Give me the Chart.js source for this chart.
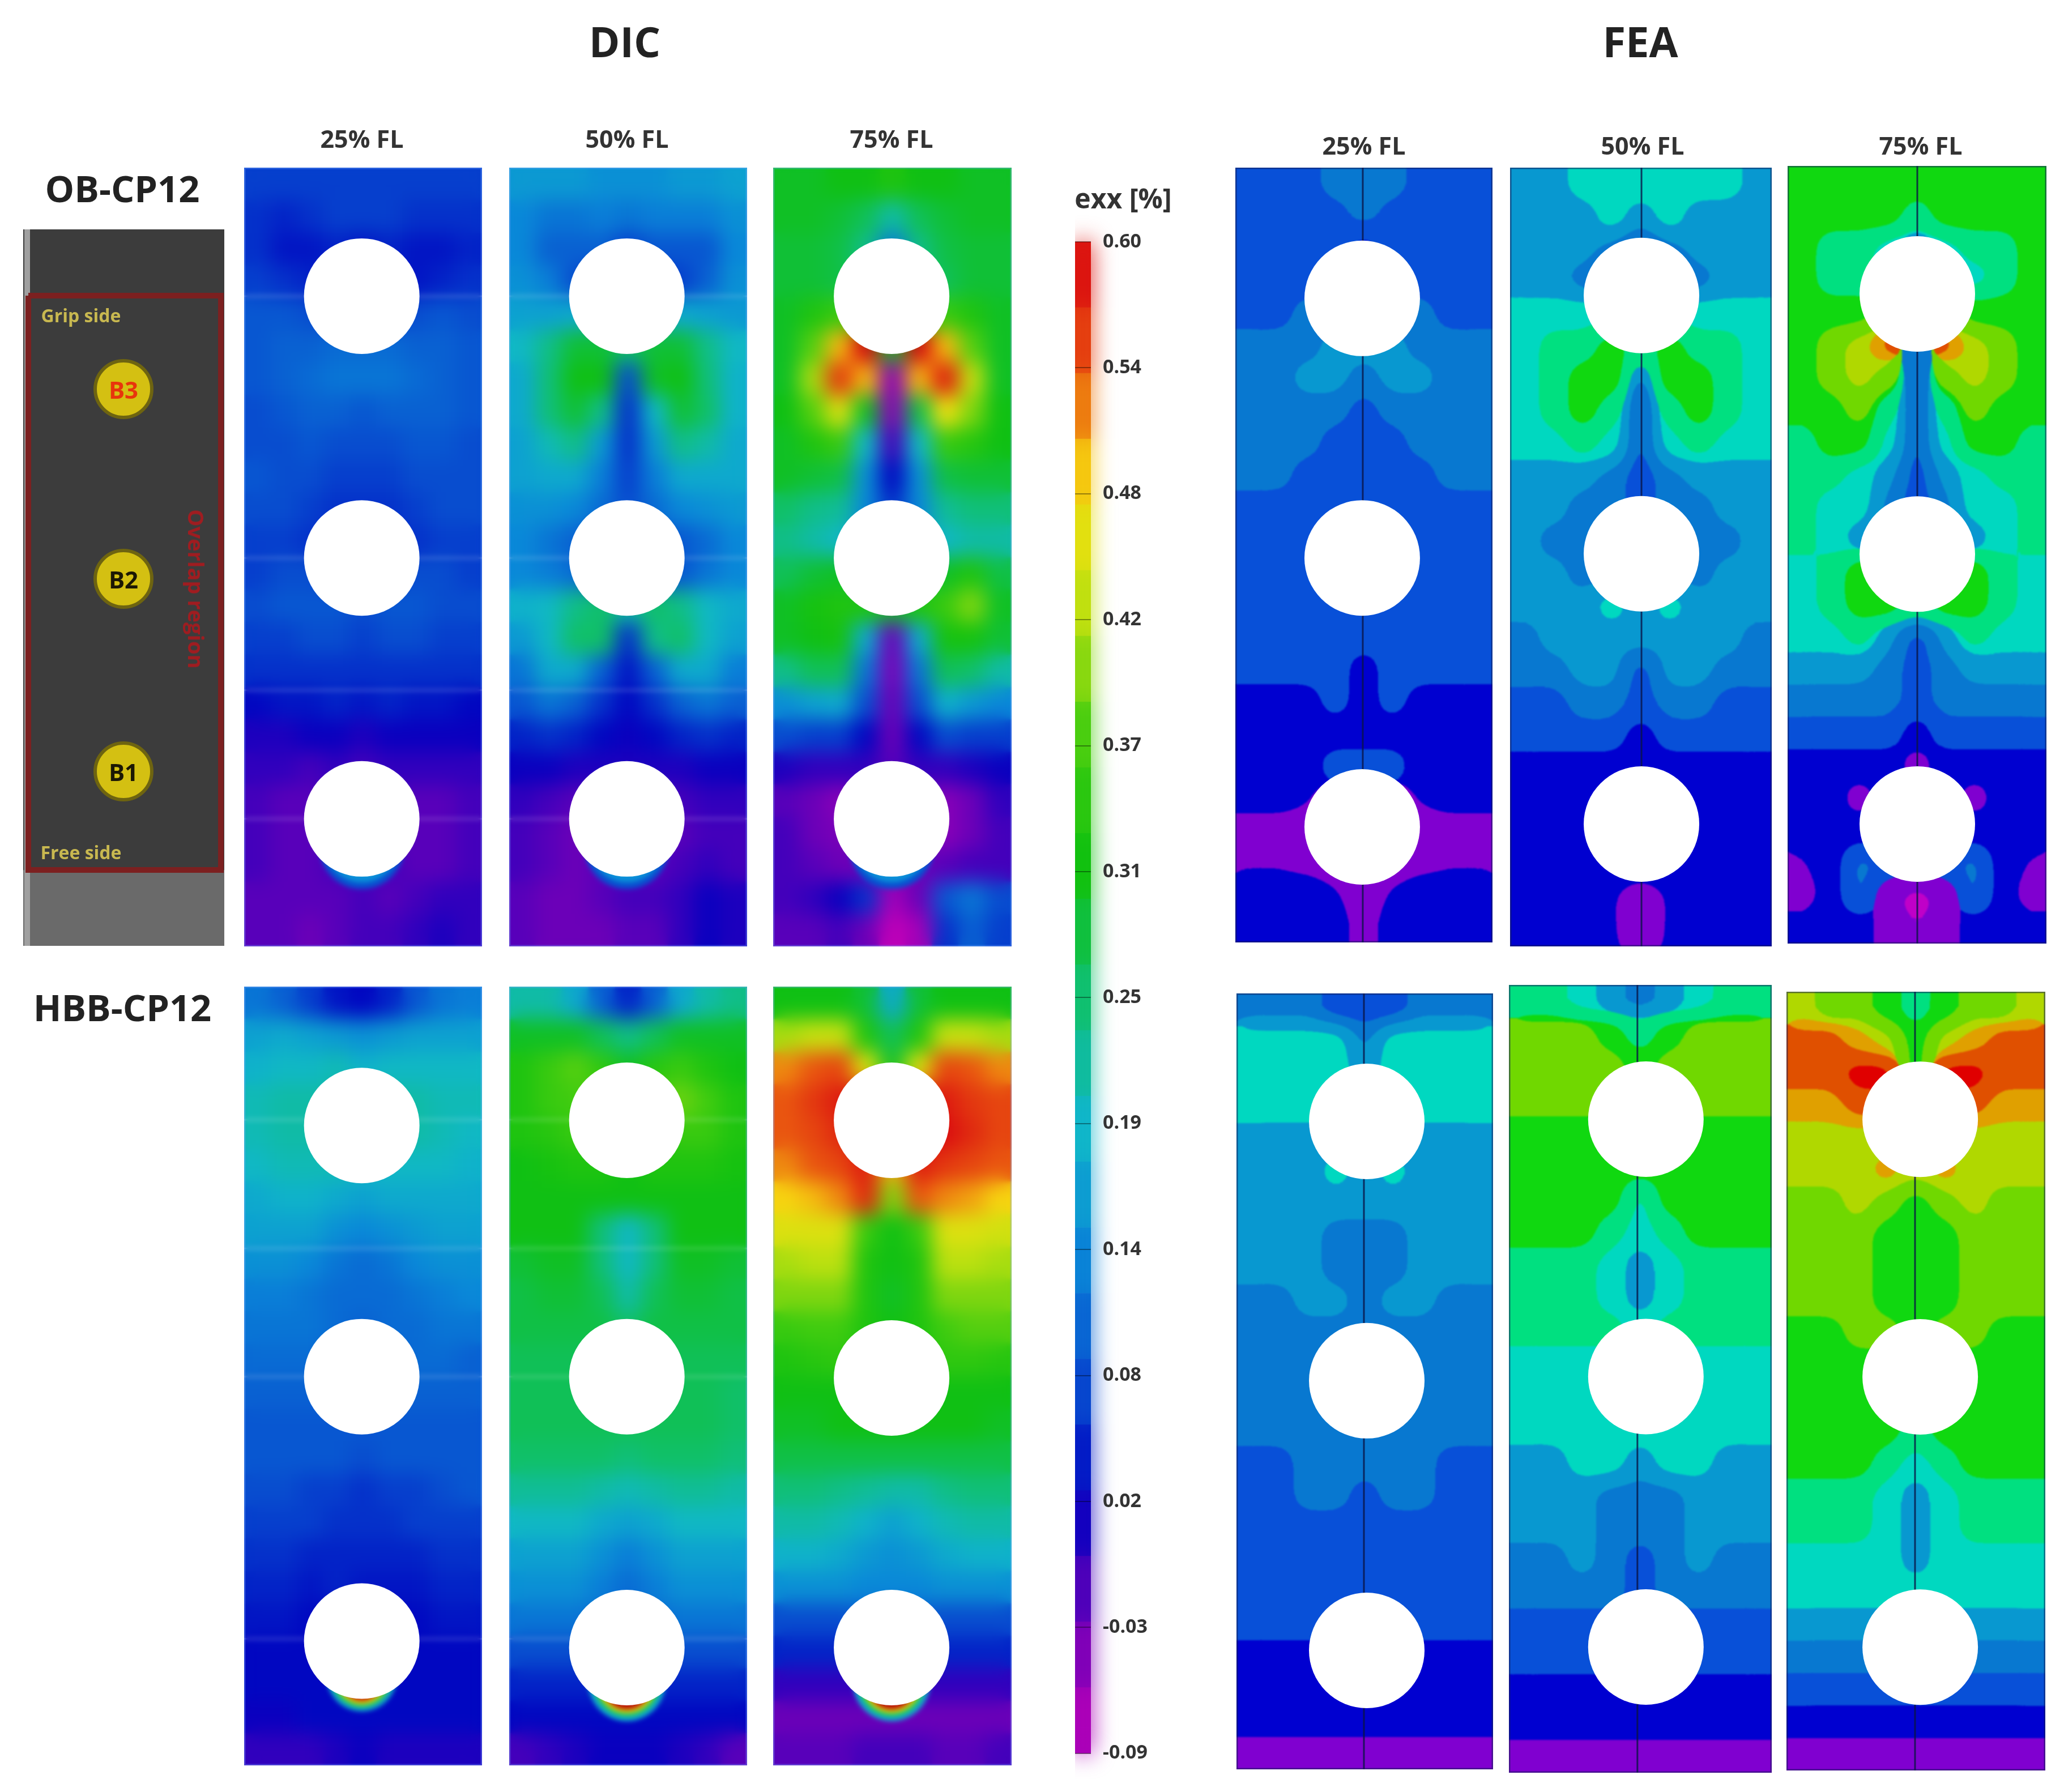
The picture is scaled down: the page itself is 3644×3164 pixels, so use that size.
<!DOCTYPE html>
<html>
<head>
<meta charset="utf-8">
<title>exx DIC / FEA</title>
<script src="https://cdn.jsdelivr.net/npm/chart.js@4"></script>
<style>
    html, body { margin: 0; background: #fff; }
    #page { position: relative; width: 3644px; height: 3164px; overflow: hidden; background: #fff; }
    .box { position: absolute; }
    .txt { position: absolute; transform: translate(-50%, -50%); white-space: nowrap; color: #222; font-family: "Open Sans", sans-serif; font-weight: 700; filter: blur(0.7px); }
</style>
</head>
<body>
<div id="page"></div>
<script>
// values are exx in units of 0.01 %, rows top to bottom
const obDic25 = [
[7,7,7,7,7,7,7,7,7],[6,5,6,7,7,7,6,6,6],[6,4,4,5,4,5,4,4,5],[7,6,5,4,4,4,4,5,6],
[9,9,8,7,7,7,8,9,8],[9,10,10,11,11,11,10,10,9],[9,10,11,12,12,12,11,10,9],[8,9,10,10,9,10,10,10,9],
[8,8,9,8,8,8,9,9,8],[9,8,8,7,7,7,8,8,8],[8,8,7,6,6,6,7,8,8],[7,7,6,6,6,6,6,7,7],
[7,8,8,7,7,7,8,8,7],[8,9,9,9,8,9,9,8,8],[7,7,8,8,7,8,8,7,7],[6,6,6,6,6,6,6,6,6],
[3,4,4,5,4,5,4,4,3],[1,1,2,2,1,2,2,2,2],[0,0,-1,0,-1,0,0,0,0],[-1,-2,-2,-1,-1,-1,-2,-2,-1],
[-1,-2,-2,-2,-2,-2,-2,-2,-1],[-1,-2,-2,-1,-1,-1,-2,-2,-1],[-2,-2,-2,-2,-1,-2,-1,0,0],[-2,-2,-3,-2,-1,-1,0,1,0]];
const obDic50 = [
[16,16,16,15,15,15,16,16,17],[14,12,12,13,12,13,13,13,15],[14,10,10,10,7,9,9,9,14],[15,13,8,6,4,6,7,10,15],
[17,17,18,18,18,18,18,17,16],[20,24,29,29,26,29,29,24,20],[18,25,31,31,8,30,31,25,19],[18,25,29,24,6,20,29,26,19],
[17,21,24,16,6,16,24,22,18],[17,18,18,13,7,13,18,18,18],[15,15,14,11,8,11,14,15,16],[14,12,10,8,6,8,9,11,14],
[14,13,11,7,6,8,9,12,14],[19,20,24,26,22,26,24,20,18],[16,20,26,26,6,24,26,20,17],[12,18,18,10,4,10,18,18,13],
[9,12,10,6,3,6,10,12,10],[5,6,5,3,2,3,5,6,5],[2,2,1,1,1,1,1,2,2],[0,-1,-2,-2,-1,-2,-1,0,0],
[-1,-2,-3,-3,-3,-3,-2,-1,-1],[-1,-2,-3,-2,-2,-2,-1,0,-1],[-2,-3,-3,-2,-1,-1,0,2,1],[-2,-3,-3,-3,-2,-2,0,2,1]];
const obDic75 = [
[30,30,31,31,33,31,31,30,30],[30,30,29,27,22,27,29,30,30],[29,29,28,24,12,24,28,29,29],[29,29,28,25,20,25,27,29,29],
[30,33,36,35,30,35,36,33,30],[30,38,50,60,30,60,50,38,30],[30,42,56,50,-5,50,58,44,30],[31,38,46,30,-5,28,48,40,31],
[30,33,36,20,-1,20,36,34,31],[30,29,28,15,3,15,28,29,29],[26,24,23,14,6,14,23,25,25],[24,22,20,14,7,14,20,22,22],
[27,29,30,27,22,27,30,33,28],[30,32,33,33,30,33,36,40,30],[30,31,32,18,-3,18,32,32,29],[24,27,27,12,-4,12,27,26,22],
[15,17,18,8,-3,8,19,16,14],[8,7,7,3,-3,3,8,7,7],[1,0,0,0,-2,0,0,1,2],[-2,-3,-5,-3,-3,-3,-5,-3,0],
[-1,-3,-4,-3,-3,-3,-5,-3,-1],[-1,-2,-3,-3,-3,-3,-2,-1,-1],[-1,0,2,6,-7,-3,9,12,8],[-2,-2,-1,-3,-9,-7,6,10,7]];
const hbbDic25 = [
[12,10,7,4,3,5,9,12,13],[17,18,17,16,15,16,17,17,17],[19,20,20,21,19,20,20,20,20],[21,22,22,22,22,22,22,21,21],
[21,22,22,21,21,21,22,21,20],[20,21,21,21,20,20,20,20,19],[18,19,19,18,17,18,18,18,18],[17,17,17,15,14,15,16,17,17],
[15,15,14,12,11,12,14,15,15],[13,13,12,11,11,11,12,13,14],[12,12,12,11,10,11,11,12,12],[11,11,11,10,10,10,11,11,10],
[10,10,10,10,10,10,10,10,10],[9,9,9,9,9,9,9,9,9],[9,9,9,9,8,9,9,9,9],[8,8,7,7,6,7,7,8,9],
[7,7,7,6,6,6,7,7,7],[6,6,5,5,5,5,5,6,6],[5,5,4,5,4,4,4,5,5],[4,4,3,3,3,3,3,4,4],
[3,3,3,3,3,3,3,3,3],[3,3,3,3,3,3,3,3,3],[2,2,3,3,3,3,3,3,3],[0,0,0,1,2,1,1,1,1]];
const hbbDic50 = [
[22,22,18,10,5,10,18,22,24],[30,30,30,27,24,27,30,30,30],[33,36,38,35,30,34,36,33,31],[33,36,37,38,34,38,39,37,33],
[33,34,36,33,33,33,36,36,33],[31,32,33,33,31,33,33,33,32],[31,31,31,31,31,31,31,31,31],[31,31,31,25,20,25,31,31,31],
[29,30,30,25,20,25,30,30,29],[28,29,29,27,22,27,29,29,28],[28,28,28,28,26,28,28,28,28],[27,27,27,27,27,27,27,27,27],
[27,27,27,27,27,27,27,27,26],[27,27,27,27,27,27,27,27,26],[26,26,26,26,25,26,26,26,25],[23,23,23,22,21,22,23,23,22],
[20,20,20,18,17,18,20,20,20],[17,17,17,15,13,15,17,17,17],[15,15,15,13,11,13,15,15,15],[12,12,12,11,10,11,12,12,12],
[8,8,8,8,8,8,8,8,8],[5,5,5,5,5,5,5,5,5],[3,3,3,3,3,3,3,3,3],[-1,0,1,2,2,2,1,0,-2]];
const hbbDic75 = [
[31,31,31,29,18,29,31,31,31],[42,44,44,33,27,33,44,44,42],[52,54,55,46,30,46,55,54,52],[54,56,58,60,30,60,58,56,55],
[54,55,57,60,55,60,59,57,55],[52,54,55,58,50,58,56,55,54],[49,50,52,57,40,54,52,51,49],[46,46,46,36,31,36,46,46,45],
[42,43,43,33,31,33,43,43,42],[40,40,40,33,30,33,40,40,40],[36,37,37,33,31,33,37,38,38],[33,34,35,33,32,33,35,35,34],
[31,31,31,31,31,31,31,31,31],[30,30,31,31,31,31,31,31,30],[28,28,28,28,28,28,28,28,28],[25,25,24,23,22,22,24,25,25],
[22,22,21,19,17,19,21,22,22],[19,19,18,16,15,16,18,19,19],[15,15,15,14,14,14,15,15,15],[8,8,8,9,9,9,8,8,8],
[5,5,5,5,5,5,5,5,5],[0,0,0,0,0,0,0,0,0],[-3,-3,-3,-3,-3,-3,-3,-3,-3],[-2,-2,-2,-1,-1,-1,-2,-2,-1]];
const obFea25 = [
[7,7,7,11,11,11,7,7,7],[7,7,7,7,11,7,7,7,7],[7,7,7,7,2,7,7,7,7],[7,7,7,7,7,7,7,7,7],
[7,7,11,11,11,11,11,7,7],[11,11,11,15,15,15,11,11,11],[11,11,15,15,11,15,15,11,11],[11,11,11,11,7,11,11,11,11],
[11,11,11,7,7,7,11,11,11],[11,11,7,7,7,7,7,11,11],[7,7,7,7,7,7,7,7,7],[7,7,7,7,7,7,7,7,7],
[7,7,7,7,7,7,7,7,7],[7,7,7,7,7,7,7,7,7],[7,7,7,7,7,7,7,7,7],[7,7,7,7,2,7,7,7,7],
[2,2,2,7,2,7,2,2,2],[2,2,2,2,2,2,2,2,2],[2,2,2,7,7,7,2,2,2],[2,2,0,-3,2,-3,0,2,2],
[-3,-3,-3,-3,-3,-3,-3,-3,-3],[-1,-1,-2,-3,-3,-3,-2,-1,-1],[2,2,2,0,-3,0,2,2,2],[2,2,2,2,-3,2,2,2,2]];
const obFea50 = [
[15,15,20,20,20,20,20,20,15],[15,15,15,20,15,20,15,15,15],[15,15,15,11,7,11,15,15,15],[15,15,11,7,2,7,11,15,15],
[20,20,20,20,20,20,20,20,20],[20,25,25,31,25,31,25,25,20],[20,25,31,31,11,31,31,25,20],[20,25,31,25,7,25,31,25,20],
[20,20,25,20,7,20,25,20,20],[15,15,15,11,7,11,15,15,15],[15,15,11,11,7,11,11,15,15],[15,11,11,11,7,11,11,11,15],
[15,15,11,11,7,11,11,15,15],[15,15,15,20,15,20,15,15,15],[11,15,15,15,15,15,15,15,11],[11,11,15,15,7,15,15,11,11],
[7,7,11,11,7,11,11,7,7],[7,7,7,7,2,7,7,7,7],[2,2,2,2,2,2,2,2,2],[2,2,2,2,2,2,2,2,2],
[2,2,2,2,2,2,2,2,2],[2,2,2,2,2,2,2,2,2],[2,2,2,0,-3,0,2,2,2],[2,2,2,0,-3,0,2,2,2]];
const obFea75 = [
[31,31,31,31,31,31,31,31,31],[31,31,31,31,25,31,31,31,31],[31,25,25,20,11,20,25,25,31],[31,25,25,20,7,20,20,25,31],
[31,31,31,37,31,37,31,31,31],[31,37,42,55,11,55,42,37,31],[31,37,42,37,7,37,42,37,31],[31,31,37,25,7,25,37,31,31],
[25,31,31,20,7,20,31,31,25],[25,25,20,15,7,15,20,25,25],[25,20,20,11,7,11,20,20,25],[25,20,15,11,7,11,15,20,25],
[20,25,31,31,25,31,31,25,20],[20,25,31,31,25,31,31,25,20],[20,20,25,15,7,15,25,20,20],[15,15,15,11,7,11,15,15,15],
[11,11,11,11,7,11,11,11,11],[7,7,7,7,2,7,7,7,7],[2,2,2,2,-3,2,2,2,2],[2,2,-3,2,2,2,-3,2,2],
[2,2,2,2,2,2,2,2,2],[-1,2,11,7,2,7,11,2,-1],[-3,2,11,-3,-5,-3,11,2,-3],[2,2,2,-3,-4,-3,2,2,2]];
const hbbFea25 = [
[11,11,11,7,7,7,11,11,11],[20,20,20,20,11,20,20,20,20],[20,20,20,20,15,20,20,20,20],[20,20,20,20,20,20,20,20,20],
[15,15,15,15,15,15,15,15,15],[15,15,15,20,15,20,15,15,15],[15,15,15,15,15,15,15,15,15],[15,15,15,11,11,11,15,15,15],
[15,15,15,11,11,11,15,15,15],[11,11,15,15,11,15,15,11,11],[11,11,11,11,11,11,11,11,11],[11,11,11,11,11,11,11,11,11],
[11,11,11,11,11,11,11,11,11],[11,11,11,11,11,11,11,11,11],[7,7,11,11,11,11,11,7,7],[7,7,11,11,7,11,11,7,7],
[7,7,7,7,7,7,7,7,7],[7,7,7,7,7,7,7,7,7],[7,7,7,7,7,7,7,7,7],[7,7,7,7,2,7,7,7,7],
[2,2,2,2,2,2,2,2,2],[2,2,2,2,2,2,2,2,2],[2,2,2,2,2,2,2,2,2],[-3,-3,-3,-3,-3,-3,-3,-3,-3]];
const hbbFea50 = [
[25,25,20,15,11,15,20,25,25],[37,37,37,31,25,31,37,37,37],[37,37,37,37,31,37,37,37,37],[37,37,37,37,37,37,37,37,37],
[31,31,31,31,31,31,31,31,31],[31,31,31,31,31,31,31,31,31],[31,31,31,31,20,31,31,31,31],[31,31,31,25,20,25,31,31,31],
[25,25,25,20,15,20,25,25,25],[25,25,25,20,15,20,25,25,25],[25,25,25,25,20,25,25,25,25],[20,20,20,20,20,20,20,20,20],
[20,20,20,20,20,20,20,20,20],[20,20,20,20,20,20,20,20,20],[15,15,20,20,15,20,20,15,15],[15,15,15,11,11,11,15,15,15],
[15,15,15,11,11,11,15,15,15],[11,11,15,11,7,11,15,11,11],[11,11,11,11,7,11,11,11,11],[7,7,7,7,7,7,7,7,7],
[7,7,7,7,7,7,7,7,7],[2,2,2,2,2,2,2,2,2],[2,2,2,2,2,2,2,2,2],[-3,-3,-3,-3,-3,-3,-3,-3,-3]];
const hbbFea75 = [
[42,37,37,31,25,31,37,37,42],[55,55,50,42,31,42,50,55,55],[55,55,72,62,31,62,72,55,55],[50,50,55,55,42,55,55,50,50],
[42,42,42,42,42,42,42,42,42],[42,42,42,50,42,50,42,42,42],[37,37,42,37,31,37,42,37,37],[37,37,37,31,31,31,37,37,37],
[37,37,37,31,31,31,37,37,37],[37,37,37,31,31,31,37,37,37],[31,31,37,37,31,37,37,31,31],[31,31,31,31,31,31,31,31,31],
[31,31,31,31,31,31,31,31,31],[31,31,31,31,25,31,31,31,31],[31,31,31,25,20,25,31,31,31],[25,25,25,20,15,20,25,25,25],
[25,25,25,20,15,20,25,25,25],[20,20,20,20,15,20,20,20,20],[20,20,20,20,20,20,20,20,20],[15,15,15,15,15,15,15,15,15],
[11,11,11,11,11,11,11,11,11],[7,7,7,7,7,7,7,7,7],[2,2,2,2,2,2,2,2,2],[-3,-3,-3,-3,-3,-3,-3,-3,-3]];

// colour scale of the bar, also used for the DIC maps
const dicLevels = [-9, -3.25, 2.5, 8.25, 14, 19.75, 25.5, 31.25, 37, 42.75, 48.5, 54.25, 60];
const dicColors = ['#c000b8','#7000b8','#0000c0','#0850d0','#0a88d8','#10b8c8','#10c070','#10c010','#40cc10','#b8e010','#f8e010','#e85010','#d80010'];
// FEA maps come in flat bands
const feaLevels = [-5, -3, 2, 7, 11, 15, 20, 25, 31, 37, 42, 50, 55, 60];
const feaColors = ['#c000c8','#8000d0','#0000d0','#0850d8','#0878d0','#0898d0','#00d8c0','#00e080','#10d810','#70d800','#b0d800','#e0a000','#e05000','#e00000'];

const barSteps = [-0.09,-0.06,-0.03,0,0.03,0.06,0.09,0.12,0.15,0.18,0.21,0.24,0.27,0.30,0.33,0.36,0.39,0.42,0.45,0.48,0.51,0.54,0.57,0.60];
const barTickValues = [-0.09,-0.0325,0.025,0.0825,0.14,0.1975,0.255,0.3125,0.37,0.4275,0.485,0.5425,0.60];
const barTickLabels = ['-0.09','-0.03','0.02','0.08','0.14','0.19','0.25','0.31','0.37','0.42','0.48','0.54','0.60'];

// specimen sketch, along its length from the clamped end
const specimenDark = [0, 1131];
const specimenLight = [1131, 1265];
const boltX = [177, 177, 177];
const boltY = [282, 617, 957];
const regionX = [9, 349, 349, 9, 9];
const regionY = [117, 117, 1131, 1131, 117];

// arcs hugging the underside of the lowest hole: reach below the hole, arc radius, colour
const blueArc = [[22, 75, '#0850d0'], [10, 65, '#0a90d8']];
const smallHotArc = [[22, 62, '#10a8d0'], [16, 55, '#10c080'], [11, 48, '#90d810'], [7, 42, '#f0c010'], [3, 36, '#c81808']];
const bigHotArc = [[28, 68, '#10a8d0'], [21, 60, '#10c080'], [15, 54, '#90d810'], [11, 48, '#f0c010'], [7, 42, '#b81008']];

Chart.defaults.animation = false;
Chart.defaults.devicePixelRatio = 1;
Chart.defaults.layout.autoPadding = false;
Chart.defaults.plugins.legend.display = false;
Chart.defaults.plugins.tooltip.enabled = false;

let page = document.getElementById('page');

let addBox = (left, top, width, height) => {
    let div = document.createElement('div');
    div.className = 'box';
    div.style.cssText = `left:${left}px;top:${top}px;width:${width}px;height:${height}px`;
    let canvas = document.createElement('canvas');
    div.appendChild(canvas);
    page.appendChild(div);
    return canvas;
};

let addText = (text, x, y, size, color, extra) => {
    let div = document.createElement('div');
    div.className = 'txt';
    div.textContent = text;
    div.style.left = x + 'px';
    div.style.top = y + 'px';
    div.style.fontSize = size + 'px';
    if (color) div.style.color = color;
    if (extra) div.style.cssText += extra;
    page.appendChild(div);
};

let hexToRgb = (hex) => [1, 3, 5].map(i => parseInt(hex.slice(i, i + 2), 16));

let colorFor = (v, levels, colors) => {
    if (v <= levels[0]) return colors[0];
    for (let i = 1; i < levels.length; i++) {
        if (v <= levels[i]) {
            let t = (v - levels[i - 1]) / (levels[i] - levels[i - 1]);
            let a = hexToRgb(colors[i - 1]), b = hexToRgb(colors[i]);
            return `rgb(${a.map((c, k) => Math.round(c + (b[k] - c) * t)).join(',')})`;
        }
    }
    return colors[colors.length - 1];
};

let blurCanvas = (chart, px) => {
    let ctx = chart.ctx;
    ctx.save();
    ctx.filter = `blur(${px}px)`;
    ctx.drawImage(chart.canvas, 0, 0);
    ctx.restore();
};

// once the cells are down, soften them; FEA then gets snapped back to its bands
const smoothPlugin = {
    id: 'smooth',
    beforeDraw(chart) { chart.$smoothed = false; },
    beforeDatasetDraw(chart, args, opts) {
        if (args.meta.type === 'bar') return;
        if (!chart.$smoothed) {
            chart.$smoothed = true;
            blurCanvas(chart, opts.blur);
            if (opts.bands) {
                let pal = opts.bands.map(hexToRgb);
                let img = chart.ctx.getImageData(0, 0, chart.width, chart.height);
                let d = img.data;
                for (let i = 0; i < d.length; i += 4) {
                    let best = 0, bestD = 1e9;
                    for (let k = 0; k < pal.length; k++) {
                        let dr = d[i] - pal[k][0], dg = d[i + 1] - pal[k][1], db = d[i + 2] - pal[k][2];
                        let dist = dr * dr + dg * dg + db * db;
                        if (dist < bestD) { bestD = dist; best = k; }
                    }
                    d[i] = pal[best][0]; d[i + 1] = pal[best][1]; d[i + 2] = pal[best][2]; d[i + 3] = 255;
                }
                chart.ctx.putImageData(img, 0, 0);
                blurCanvas(chart, 1.5);
            }
        }
        // arcs and seams go soft too, just before the holes are punched
        if (opts.soft && args.meta.order === 0) blurCanvas(chart, opts.soft);
    },
    afterDraw(chart, args, opts) {
        if (!opts.frame) return;
        let a = chart.chartArea, ctx = chart.ctx;
        ctx.save();
        ctx.strokeStyle = opts.frame;
        ctx.lineWidth = 3;
        ctx.strokeRect(a.left + 1, a.top + 1, a.right - a.left - 2, a.bottom - a.top - 2);
        ctx.restore();
    }
};

let drawPanel = (p) => {
    let fea = !!p.line;
    let levels = fea ? feaLevels : dicLevels;
    let colors = fea ? feaColors : dicColors;
    let datasets = p.grid.map((row, r) => ({
        type: 'bar',
        order: 3,
        data: row.map((v, c) => ({ x: c, y: [r, r + 1], v: v })),
        backgroundColor: row.map(v => colorFor(v, levels, colors)),
        borderWidth: 0,
        barPercentage: 1,
        categoryPercentage: 1
    }));
    (p.seams || []).forEach(y => datasets.push({
        type: 'scatter', order: 2, showLine: true, pointRadius: 0,
        borderColor: 'rgba(255,255,255,0.3)', borderWidth: 3,
        data: [{ x: -0.5, y: y }, { x: 8.5, y: y }]
    }));
    (p.arc || []).forEach((a, i) => datasets.push({
        type: 'scatter', order: 1.5 - i * 0.01, pointRadius: a[1], pointBackgroundColor: a[2], pointBorderWidth: 0,
        data: [{ x: p.holeX, y: p.holeY[2] + (102 + a[0] - a[1]) * 24 / p.box[3] }]
    }));
    if (fea) datasets.push({
        type: 'scatter', order: 1, showLine: true, pointRadius: 0,
        borderColor: 'rgba(10,20,70,0.8)', borderWidth: 3,
        data: [{ x: p.line, y: 0 }, { x: p.line, y: 24 }]
    });
    datasets.push({
        type: 'scatter', order: 0, pointRadius: 102, pointBackgroundColor: '#fff', pointBorderWidth: 0,
        data: p.holeY.map(y => ({ x: p.holeX, y: y }))
    });
    new Chart(addBox(p.box[0], p.box[1], p.box[2], p.box[3]), {
        type: 'bar',
        data: { datasets },
        options: {
            responsive: true,
            maintainAspectRatio: false,
            parsing: { xAxisKey: 'x', yAxisKey: 'y' },
            scales: {
                x: { type: 'linear', min: -0.5, max: 8.5, display: false, stacked: true, offset: false },
                y: { type: 'linear', min: 0, max: 24, reverse: true, display: false }
            },
            plugins: { smooth: { blur: fea ? 20 : 17, soft: fea ? 0 : 4, bands: fea ? feaColors : null, frame: fea ? 'rgba(20,30,90,0.55)' : 'rgba(120,170,255,0.35)' } }
        },
        plugins: [smoothPlugin]
    });
};

const dicSeamsOb = [3.96, 12.03, 16.1, 20.07];
const dicSeamsHbb = [4.1, 8.07, 12.02, 20.1];

drawPanel({ grid: obDic25, box: [431, 296, 420, 1375], holeX: 3.95, holeY: [3.96, 12.03, 20.07], seams: dicSeamsOb, arc: blueArc });
drawPanel({ grid: obDic50, box: [899, 296, 420, 1375], holeX: 3.95, holeY: [3.96, 12.03, 20.07], seams: dicSeamsOb, arc: blueArc });
drawPanel({ grid: obDic75, box: [1365, 296, 421, 1375], holeX: 3.97, holeY: [3.96, 12.03, 20.07], arc: blueArc });
drawPanel({ grid: hbbDic25, box: [431, 1742, 420, 1375], holeX: 3.95, holeY: [4.28, 12.02, 20.17], seams: dicSeamsHbb, arc: smallHotArc });
drawPanel({ grid: hbbDic50, box: [899, 1742, 420, 1375], holeX: 3.95, holeY: [4.12, 12.02, 20.37], seams: dicSeamsHbb, arc: bigHotArc });
drawPanel({ grid: hbbDic75, box: [1365, 1742, 421, 1375], holeX: 3.97, holeY: [4.12, 12.06, 20.37], arc: bigHotArc });
drawPanel({ grid: obFea25, box: [2181, 296, 454, 1368], holeX: 3.94, holeY: [4.05, 12.09, 20.42], line: 3.96 });
drawPanel({ grid: obFea50, box: [2666, 296, 462, 1375], holeX: 4.02, holeY: [3.94, 11.9, 20.23], line: 4.02 });
drawPanel({ grid: obFea75, box: [3156, 293, 457, 1373], holeX: 4.01, holeY: [3.95, 11.98, 20.31], line: 4.01 });
drawPanel({ grid: hbbFea25, box: [2183, 1754, 453, 1370], holeX: 4.07, holeY: [3.96, 11.98, 20.32], line: 3.97 });
drawPanel({ grid: hbbFea50, box: [2664, 1739, 464, 1391], holeX: 4.19, holeY: [4.09, 11.93, 20.17], line: 3.9 });
drawPanel({ grid: hbbFea75, box: [3154, 1751, 457, 1375], holeX: 4.15, holeY: [3.93, 11.87, 20.2], line: 3.97 });

// colour bar
new Chart(addBox(1898, 374, 230, 2767), {
    type: 'bar',
    data: {
        labels: ['exx'],
        datasets: barSteps.slice(0, -1).map((lo, i) => ({
            order: 1,
            data: [[lo, barSteps[i + 1]]],
            backgroundColor: colorFor((lo + barSteps[i + 1]) * 50, dicLevels, dicColors),
            borderWidth: 0,
            barPercentage: 1,
            categoryPercentage: 1
        })).concat([{ type: 'scatter', order: 0, pointRadius: 0, data: [] }])
    },
    options: {
        responsive: true,
        maintainAspectRatio: false,
        layout: { padding: { top: 20, bottom: 20 } },
        scales: {
            x: { display: false, stacked: true },
            y: {
                position: 'right',
                min: -0.091,
                max: 0.603,
                afterBuildTicks: (axis) => { axis.ticks = barTickValues.map(v => ({ value: v })); },
                afterFit: (axis) => { axis.width = 202; },
                border: { display: false },
                grid: { z: 1, color: 'rgba(0,0,0,0.38)', lineWidth: 2, drawTicks: false },
                ticks: {
                    z: 1,
                    padding: 21,
                    autoSkip: false,
                    color: '#333',
                    font: { family: '"Open Sans", sans-serif', size: 34, weight: '700' },
                    callback: (value, index) => barTickLabels[index]
                }
            }
        },
        plugins: { smooth: { blur: 20 } }
    },
    plugins: [smoothPlugin]
});

// specimen sketch on the left
new Chart(addBox(41, 405, 355, 1265), {
    type: 'bar',
    data: {
        labels: ['specimen'],
        datasets: [
            { order: 3, data: [{ x: 177.5, y: specimenDark }], backgroundColor: '#3c3c3c', borderWidth: 0, barPercentage: 1, categoryPercentage: 1 },
            { order: 3, data: [{ x: 177.5, y: specimenLight }], backgroundColor: '#6a6a6a', borderWidth: 0, barPercentage: 1, categoryPercentage: 1 },
            { type: 'scatter', order: 2, showLine: true, pointRadius: 0, borderColor: '#a0a0a0', borderWidth: 10,
              data: [{ x: 7, y: 0 }, { x: 7, y: 1265 }] },
            { type: 'scatter', order: 1, showLine: true, pointRadius: 0, borderColor: '#7c2020', borderWidth: 10,
              data: regionX.map((x, i) => ({ x: x, y: regionY[i] })) },
            { type: 'scatter', order: 0, pointRadius: 50, pointBackgroundColor: '#d4c012', pointBorderColor: '#6e6410', pointBorderWidth: 6,
              data: boltX.map((x, i) => ({ x: x, y: boltY[i] })) }
        ]
    },
    options: {
        responsive: true,
        maintainAspectRatio: false,
        scales: {
            x: { type: 'linear', min: 0, max: 355, display: false, stacked: true, offset: false },
            y: { type: 'linear', min: 0, max: 1265, reverse: true, display: false }
        },
        datasets: { bar: { barThickness: 355 } }
    }
});

addText('DIC', 1103, 72, 74);
addText('FEA', 2896, 72, 74);
addText('OB-CP12', 216, 332, 65);
addText('HBB-CP12', 216, 1778, 65);
addText('exx [%]', 1983, 349, 48, '#333');
[[639, 244], [1107, 244], [1574, 244], [2408, 256], [2900, 256], [3391, 256]].forEach((c, i) => {
    addText(['25% FL', '50% FL', '75% FL'][i % 3], c[0], c[1], 43, '#333');
});
addText('Grip side', 143, 556, 32, '#c8b850');
addText('Free side', 143, 1504, 32, '#c8b850');
addText('B3', 218, 687, 42, '#e8350c');
addText('B2', 218, 1022, 42, '#1c1804');
addText('B1', 218, 1362, 42, '#1c1804');
addText('Overlap region', 347, 1040, 38, '#a01c20', 'transform:translate(-50%,-50%) rotate(90deg);');
</script>
</body>
</html>
